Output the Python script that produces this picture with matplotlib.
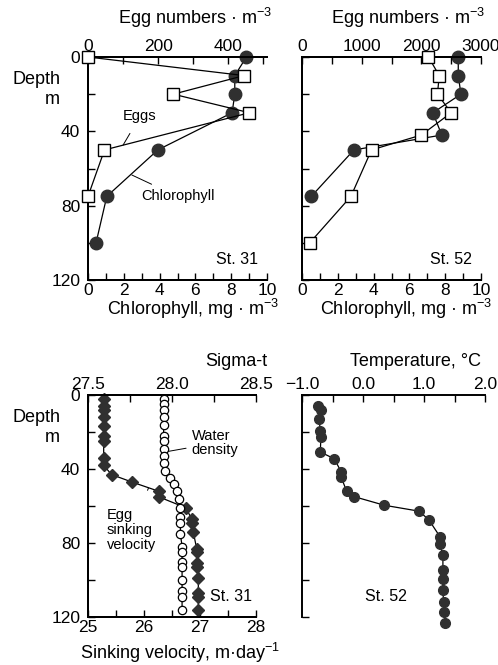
import matplotlib
matplotlib.use('Agg')
from matplotlib import pyplot as plt
from matplotlib.ticker import MultipleLocator, FuncFormatter
import numpy as np

plt.rcParams['font.family'] = ['Liberation Sans', 'DejaVu Sans']
plt.rcParams['mathtext.fontset'] = 'custom'
plt.rcParams['mathtext.rm'] = 'Liberation Sans'
plt.rcParams['mathtext.default'] = 'regular'

# St. 31 chlorophyll and eggs
chl31_depth = [0, 10, 20, 30, 50, 75, 100]
chl31 = [8.85, 8.2, 8.2, 8.05, 3.9, 1.05, 0.45]
egg31_depth = [0, 10, 20, 30, 50, 75]
egg31 = [0, 445, 243, 460, 47, 0]

# St. 52 chlorophyll and eggs
chl52_depth = [0, 10, 20, 30, 42, 50, 75]
chl52 = [8.73, 8.73, 8.88, 7.31, 7.81, 2.9, 0.52]
egg52_depth = [0, 10, 20, 30, 42, 50, 75, 100]
egg52 = [2120, 2300, 2270, 2500, 2000, 1165, 820, 130]

# St. 31 egg sinking velocity and sigma-t
vel_depth = [2, 6, 8, 12, 17, 22, 25, 34, 38, 43, 47, 52, 55, 61, 67, 69, 74, 83, 85, 91, 93, 99, 107, 109, 116]
vel = [25.28, 25.28, 25.28, 25.28, 25.28, 25.28, 25.28, 25.28, 25.28, 25.42, 25.78, 26.26, 26.26, 26.75,
       26.85, 26.85, 26.88, 26.94, 26.94, 26.94, 26.95, 26.97, 26.97, 26.97, 26.97]
sig_depth = [2, 5, 8, 12, 16, 22, 25, 29, 33, 37, 41, 45, 48, 52, 56, 61, 66, 69, 75, 82, 85, 90, 93, 100, 106, 109, 116]
sig = [27.95, 27.95, 27.95, 27.95, 27.95, 27.95, 27.95, 27.955, 27.955, 27.955, 27.96, 27.99, 28.01, 28.03,
       28.04, 28.05, 28.05, 28.05, 28.05, 28.06, 28.06, 28.06, 28.06, 28.06, 28.06, 28.06, 28.06]

# St. 52 temperature
temp_depth = [5.8, 7.9, 12.9, 19.3, 22.7, 30.8, 34.5, 41.4, 44.3, 51.8, 54.9, 59.6, 62.8, 67.5, 76.5, 80.8,
              86.4, 94.8, 99.3, 105.3, 112.1, 117.3, 123.4]
temp = [-0.74, -0.69, -0.72, -0.70, -0.69, -0.70, -0.47, -0.36, -0.36, -0.27, -0.15, 0.35, 0.92, 1.08, 1.26,
        1.26, 1.31, 1.31, 1.31, 1.31, 1.32, 1.33, 1.35]

W, H = 498, 665
fig = plt.figure(figsize=(W / 100, H / 100), dpi=100)
dark = '#303030'
fs = 12.5
tfs = 13
narrow = ['Liberation Sans Narrow', 'Liberation Sans']
one_dec = FuncFormatter(lambda v, p: ('%.1f' % v).replace('-', '\u2212'))


def box(l, r, t, b):
    return [l / W, 1 - b / H, (r - l) / W, (b - t) / H]


def style(ax, left_labels=True):
    ax.set_ylim(120, 0)
    ax.yaxis.set_major_locator(MultipleLocator(40))
    ax.yaxis.set_minor_locator(MultipleLocator(20))
    ax.tick_params(which='both', direction='in', labelsize=fs, width=1.0, length=5)
    ax.tick_params(axis='x', pad=2)
    ax.tick_params(axis='y', pad=5.5)
    ax.spines['right'].set_visible(False)
    if not left_labels:
        ax.tick_params(axis='y', labelleft=False)
    for s in ax.spines.values():
        s.set_linewidth(1.4)


def top_style(ax):
    ax.set_ylim(120, 0)
    ax.tick_params(which='both', direction='in', labelsize=fs, length=5, width=1.0, pad=2)
    ax.spines['right'].set_visible(False)
    for s in ax.spines.values():
        s.set_linewidth(1.4)


def px(x, y):
    return x / W, 1 - y / H


# ---------------- panel 1: St. 31
ax1 = fig.add_axes(box(88, 267, 57, 280))
style(ax1)
ax1.set_xlim(0, 10)
ax1.xaxis.set_major_locator(MultipleLocator(2))
ax1.xaxis.set_minor_locator(MultipleLocator(1))
ax1.plot(chl31, chl31_depth, 'o-', color='k', mfc=dark, mec=dark, ms=9, lw=0.9, clip_on=False, zorder=3)
ax1b = ax1.twiny()
top_style(ax1b)
ax1b.set_xlim(0, 510)
ax1b.xaxis.set_major_locator(MultipleLocator(200))
ax1b.xaxis.set_minor_locator(MultipleLocator(100))
ax1b.plot(egg31, egg31_depth, 's-', color='k', mfc='white', mec='k', ms=8.5, mew=1.0, lw=0.9, clip_on=False, zorder=4)
ax1.text(8.3, 109, 'St. 31', fontsize=11.5, ha='center', va='center')
ax1.annotate('Eggs', xy=(1.96, 47.4), xytext=(2.9, 32), fontsize=10.5, ha='center', va='center', family=narrow,
             arrowprops=dict(arrowstyle='-', lw=0.7, color='k', shrinkA=6, shrinkB=0))
ax1.annotate('Chlorophyll', xy=(2.45, 63.5), xytext=(5.0, 75), fontsize=10.5, ha='center', va='center', family=narrow,
             arrowprops=dict(arrowstyle='-', lw=0.7, color='k', shrinkA=4, shrinkB=0))

# ---------------- panel 2: St. 52
ax2 = fig.add_axes(box(302, 481, 57, 280))
style(ax2, left_labels=False)
ax2.set_xlim(0, 10)
ax2.xaxis.set_major_locator(MultipleLocator(2))
ax2.xaxis.set_minor_locator(MultipleLocator(1))
ax2.plot(chl52, chl52_depth, 'o-', color='k', mfc=dark, mec=dark, ms=9, lw=0.9, clip_on=False, zorder=3)
ax2b = ax2.twiny()
top_style(ax2b)
ax2b.set_xlim(0, 3000)
ax2b.xaxis.set_major_locator(MultipleLocator(1000))
ax2b.xaxis.set_minor_locator(MultipleLocator(500))
ax2b.plot(egg52, egg52_depth, 's-', color='k', mfc='white', mec='k', ms=8.5, mew=1.0, lw=0.9, clip_on=False, zorder=4)
ax2.text(8.3, 109, 'St. 52', fontsize=11.5, ha='center', va='center')

# ---------------- panel 3: St. 31 sinking velocity / sigma-t
ax3 = fig.add_axes(box(88, 256, 395, 617))
style(ax3)
ax3.set_xlim(25, 28)
ax3.xaxis.set_major_locator(MultipleLocator(1))
ax3.xaxis.set_minor_locator(MultipleLocator(0.5))
ax3.plot(vel, vel_depth, 'D-', color='k', mfc=dark, mec=dark, ms=5.8, lw=0.9, clip_on=False, zorder=3)
ax3b = ax3.twiny()
top_style(ax3b)
ax3b.set_xlim(27.5, 28.5)
ax3b.xaxis.set_major_locator(MultipleLocator(0.5))
ax3b.xaxis.set_minor_locator(MultipleLocator(0.25))
ax3b.xaxis.set_major_formatter(one_dec)
ax3b.plot(sig, sig_depth, 'o-', color='k', mfc='white', mec='k', ms=6, mew=0.9, lw=0.9, clip_on=False, zorder=4)
ax3.text(27.55, 109, 'St. 31', fontsize=11.5, ha='center', va='center')
ax3.annotate('Water\ndensity', xy=(26.43, 30.5), xytext=(26.85, 26), fontsize=10.5, ha='left', va='center',
             family=narrow, linespacing=1.05,
             arrowprops=dict(arrowstyle='-', lw=0.7, color='k', shrinkA=2, shrinkB=0))
ax3.annotate('Egg\nsinking\nvelocity', xy=(26.08, 50.3), xytext=(25.33, 73), fontsize=10.5, ha='left', va='center',
             family=narrow, linespacing=1.05,
             arrowprops=dict(arrowstyle='-', lw=0.7, color='k', shrinkA=12, shrinkB=0))

# ---------------- panel 4: St. 52 temperature
ax4 = fig.add_axes(box(302, 485, 395, 617))
style(ax4, left_labels=False)
ax4.spines['bottom'].set_visible(False)
ax4.set_xlim(-1, 2)
ax4.xaxis.tick_top()
ax4.xaxis.set_major_locator(MultipleLocator(1))
ax4.xaxis.set_minor_locator(MultipleLocator(0.5))
ax4.xaxis.set_major_formatter(one_dec)
ax4.tick_params(axis='x', which='both', direction='in', pad=2)
ax4.plot(temp, temp_depth, 'o-', color='k', mfc=dark, mec=dark, ms=7, lw=0.9, clip_on=False, zorder=3)
ax4.text(0.37, 108.7, 'St. 52', fontsize=11.5, ha='center', va='center')

# ---------------- axis titles and labels
fig.text(*px(195, 18), 'Egg numbers · m$^{-3}$', fontsize=tfs, ha='center', va='center')
fig.text(*px(408, 18), 'Egg numbers · m$^{-3}$', fontsize=tfs, ha='center', va='center')
fig.text(*px(193, 309), 'Chlorophyll, mg · m$^{-3}$', fontsize=tfs, ha='center', va='center')
fig.text(*px(406, 309), 'Chlorophyll, mg · m$^{-3}$', fontsize=tfs, ha='center', va='center')
fig.text(*px(236, 362), 'Sigma-t', fontsize=tfs, ha='center', va='center')
fig.text(*px(416, 362), 'Temperature, °C', fontsize=tfs, ha='center', va='center')
fig.text(*px(180, 653), 'Sinking velocity, m·day$^{-1}$', fontsize=tfs, ha='center', va='center')
for y in (80, 418):
    fig.text(*px(37, y), 'Depth', fontsize=tfs, ha='center', va='center')
    fig.text(*px(52, y + 20), 'm', fontsize=tfs, ha='center', va='center')

fig.savefig('out.png', dpi=100)
